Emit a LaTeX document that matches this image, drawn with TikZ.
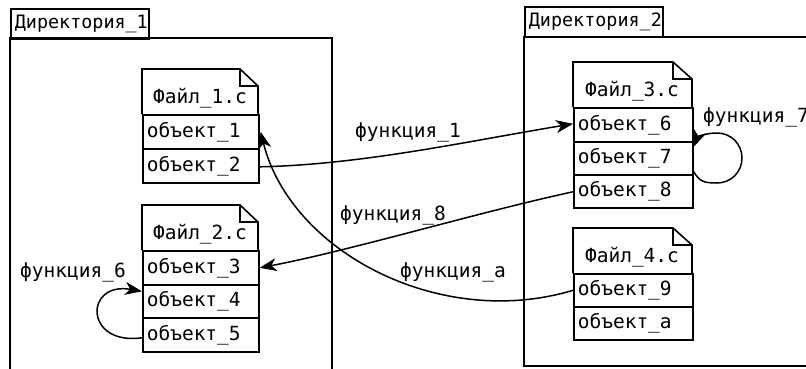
\documentclass[tikz,border=0pt]{standalone}
\usepackage{fontspec}
\newfontfamily\dmono{DejaVu Sans Mono}
\usetikzlibrary{arrows.meta}
\begin{document}
\begin{tikzpicture}[x=1pt,y=-1pt,
  frame/.style={draw=black, line width=1.8pt},
  tabbox/.style={frame, anchor=north west, minimum width=138pt, minimum height=30pt,
     inner sep=0pt, text width=134pt, align=left, font=\dmono\fontsize{18.4}{20}\selectfont},
  rowbox/.style={frame, line width=1.6pt, anchor=north west, minimum height=#1, inner ysep=0pt,
     inner xsep=4pt, align=left, font=\dmono\fontsize{19.5}{21}\selectfont},
  rowbox/.default=34pt,
  hdr/.style={font=\dmono\fontsize{19.5}{21}\selectfont, inner sep=0pt},
  lbl/.style={font=\dmono\fontsize{19.5}{21}\selectfont, inner sep=0pt, anchor=west},
  conn/.style={draw=black, line width=1.5pt, -{Stealth[length=17pt,width=13pt,inset=5pt]}},
  fold/.style={draw=black, line width=1.6pt, line join=miter}
]
\useasboundingbox[fill=white] (0,0) rectangle (806,368);

% Directory 1
\node[tabbox] (d1) at (10,8) {\hspace*{2pt}Директория\_1};
\draw[frame] (10,38) rectangle (332,385);
% Directory 2
\node[tabbox] (d2) at (524,6) {\hspace*{2pt}Директория\_2};
\draw[frame] (524,37) rectangle (830,366);

% File 1
\draw[fold,fill=white] (142,114) -- (142,69) -- (240,69) -- (258,86) -- (258,114);
\draw[fold] (240,69) -- (240,86) -- (258,86);
\node[hdr] (f1) at (200,98) {Файл\_1.c};
\node[rowbox, text width=108pt] (o1) at (142,114) {объект\_1};
\node[rowbox, text width=108pt] (o2) at (142,148) {объект\_2};

% File 2
\draw[fold,fill=white] (142,250) -- (142,205) -- (240,205) -- (258,222) -- (258,250);
\draw[fold] (240,205) -- (240,222) -- (258,222);
\node[hdr] (f2) at (200,234) {Файл\_2.c};
\node[rowbox, text width=108pt] (o3) at (142,250) {объект\_3};
\node[rowbox=33pt, text width=108pt] (o4) at (142,284) {объект\_4};
\node[rowbox=34pt, text width=108pt] (o5) at (142,317) {объект\_5};

% File 3
\draw[fold,fill=white] (573,107) -- (573,62) -- (673,62) -- (692,79) -- (692,107);
\draw[fold] (673,62) -- (673,79) -- (692,79);
\node[hdr] (f3) at (632,91) {Файл\_3.c};
\node[rowbox, text width=111pt] (o6) at (573,107) {объект\_6};
\node[rowbox=33pt, text width=111pt] (o7) at (573,141) {объект\_7};
\node[rowbox=33pt, text width=111pt] (o8) at (573,174) {объект\_8};

% File 4
\draw[fold,fill=white] (573,273) -- (573,228) -- (673,228) -- (692,245) -- (692,273);
\draw[fold] (673,228) -- (673,245) -- (692,245);
\node[hdr] (f4) at (632,257) {Файл\_4.c};
\node[rowbox=33pt, text width=111pt] (o9) at (573,273) {объект\_9};
\node[rowbox=33pt, text width=111pt] (oa) at (573,306) {объект\_a};

% Connectors
\draw[conn] ([yshift=-1pt]o2.east) .. controls +(102,-2) and +(-103,17) .. ([yshift=1pt]o6.west);
\draw[conn] ([yshift=-0.5pt]o8.west) .. controls +(-93,20) and +(90,-17) .. (o3.east);
\draw[conn] (o9.west) .. controls +(-133,40) and +(30,120) .. ([xshift=1pt]o1.east);
\draw[conn] ([yshift=-3pt]o5.west) .. controls +(-58,8) and +(-58,-10) .. ([yshift=10pt]o4.west);
\draw[conn] ([yshift=4pt]o7.south east)
   .. controls +(6,10) and +(-13,0) .. (717,183)
   .. controls +(14,0) and +(0,14) .. (742,158)
   .. controls +(0,-14) and +(14,0) .. (717,133)
   .. controls +(-12,0) and +(4,-10) .. ([yshift=-6pt]o7.north east);

% Labels
\node[lbl] (l1) at (355,132) {функция\_1};
\node[lbl] (l8) at (340,215) {функция\_8};
\node[lbl] (la) at (400,272) {функция\_a};
\node[lbl] (l6) at (20,272) {функция\_6};
\node[lbl] (l7) at (703,117) {функция\_7};
\end{tikzpicture}
\end{document}
